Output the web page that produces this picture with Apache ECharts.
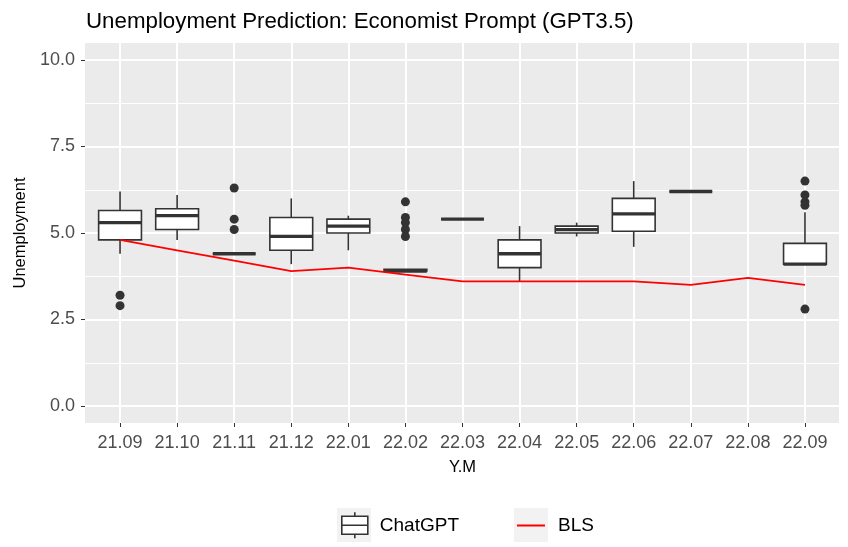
<!DOCTYPE html>
<html>
<head>
<meta charset="utf-8">
<script src="https://cdn.jsdelivr.net/npm/echarts@6/dist/echarts.min.js"></script>
<style>
html,body{margin:0;padding:0;background:#fff;}
#chart{width:848px;height:547px;}
</style>
</head>
<body>
<div id="chart"></div>
<script>
// ---- data ----
const categories = ['21.09','21.10','21.11','21.12','22.01','22.02','22.03','22.04','22.05','22.06','22.07','22.08','22.09'];
const boxMin    = [4.4, 4.8, 4.4, 4.1, 4.5, 3.9, 5.4, 3.6, 4.9, 4.6, 6.2, null, 4.1];
const boxQ1     = [4.8, 5.1, 4.4, 4.5, 5.0, 3.9, 5.4, 4.0, 5.0, 5.05, 6.2, null, 4.1];
const boxMedian = [5.3, 5.5, 4.4, 4.9, 5.2, 3.9, 5.4, 4.4, 5.1, 5.55, 6.2, null, 4.1];
const boxQ3     = [5.65, 5.7, 4.4, 5.45, 5.4, 3.95, 5.4, 4.8, 5.2, 6.0, 6.2, null, 4.7];
const boxMax    = [6.2, 6.1, 4.4, 6.0, 5.5, 3.95, 5.4, 5.2, 5.3, 6.5, 6.2, null, 5.6];
const outlierCats   = ['21.09','21.09','21.11','21.11','21.11','22.02','22.02','22.02','22.02','22.02','22.09','22.09','22.09','22.09','22.09'];
const outlierValues = [3.2, 2.9, 6.3, 5.4, 5.1, 5.9, 5.45, 5.3, 5.1, 4.9, 6.5, 6.1, 5.9, 5.8, 2.8];
const blsValues = [4.8, 4.5, 4.2, 3.9, 4.0, 3.8, 3.6, 3.6, 3.6, 3.6, 3.5, 3.7, 3.5];
const yTicks = [0, 2.5, 5, 7.5, 10];

// ---- build ----
const boxData = [];
categories.forEach((c, i) => {
  if (boxMin[i] !== null) boxData.push([c, boxMin[i], boxQ1[i], boxMedian[i], boxQ3[i], boxMax[i]]);
});
const outlierData = outlierCats.map((c, i) => [c, outlierValues[i]]);

const FONT = 'Liberation Sans, Arial, sans-serif';
const chart = echarts.init(document.getElementById('chart'), null, {renderer: 'canvas'});

function renderBox(params, api) {
  const x = api.value(0);
  const lo = api.coord([x, api.value(1)]);
  const q1 = api.coord([x, api.value(2)]);
  const md = api.coord([x, api.value(3)]);
  const q3 = api.coord([x, api.value(4)]);
  const hi = api.coord([x, api.value(5)]);
  const w = api.size([1, 0])[0] * 0.75;
  const cx = md[0];
  const stroke = {stroke: '#333333', lineWidth: 1.6, fill: null};
  return {
    type: 'group',
    children: [
      {type: 'line', shape: {x1: cx, y1: hi[1], x2: cx, y2: q3[1]}, style: stroke},
      {type: 'line', shape: {x1: cx, y1: q1[1], x2: cx, y2: lo[1]}, style: stroke},
      {type: 'rect', shape: {x: cx - w / 2, y: q3[1], width: w, height: Math.max(q1[1] - q3[1], 0)},
        style: {fill: '#ffffff', stroke: '#333333', lineWidth: 1.6}},
      {type: 'line', shape: {x1: cx - w / 2, y1: md[1], x2: cx + w / 2, y2: md[1]},
        style: {stroke: '#333333', lineWidth: 3.3}}
    ]
  };
}

// panel: x 85..839, y 43..424 ; data band: x 91.5..833.5 ; values 0..10 at y 60..406
const option = {
  animation: false,
  backgroundColor: '#ffffff',
  textStyle: {fontFamily: FONT},
  title: {
    text: 'Unemployment Prediction: Economist Prompt (GPT3.5)',
    left: 81, top: 6,
    textStyle: {fontFamily: FONT, fontSize: 22.3, fontWeight: 'normal', color: '#000000'}
  },
  graphic: [
    {type: 'rect', left: 337, top: 508, shape: {width: 34, height: 34}, style: {fill: '#F2F2F2'}, z: -1},
    {type: 'rect', left: 514, top: 508, shape: {width: 34, height: 34}, style: {fill: '#F2F2F2'}, z: -1}
  ],
  legend: [
    {
      left: 341, top: 511.5, padding: 0, itemWidth: 26, itemHeight: 26,
      data: [{name: 'ChatGPT', icon: 'path://M13,0L13,4M0,4L26,4L26,22L0,22ZM0,13L26,13M13,22L13,26',
        itemStyle: {color: '#ffffff', borderColor: '#333333', borderWidth: 1.6}}],
      textStyle: {fontFamily: FONT, fontSize: 19, color: '#000000', padding: [0, 0, 0, 7]}
    },
    {
      left: 517, top: 516, padding: 0, itemWidth: 28, itemHeight: 2,
      data: [{name: 'BLS', icon: 'rect', itemStyle: {color: '#FF0000'}}],
      textStyle: {fontFamily: FONT, fontSize: 19, color: '#000000', padding: [0, 0, 0, 8]}
    }
  ],
  grid: [
    {left: 85, right: 9, top: 43, bottom: 124, show: true, backgroundColor: '#EBEBEB', borderWidth: 0},
    {left: 85, right: 9, top: 60, bottom: 141},
    {left: 91.5, right: 14.5, top: 43, bottom: 124},
    {left: 91.5, right: 14.5, top: 60, bottom: 141}
  ],
  xAxis: [
    {type: 'category', gridIndex: 0, data: categories, show: false},
    {type: 'category', gridIndex: 1, data: categories, show: false},
    {
      type: 'category', gridIndex: 2, data: categories, boundaryGap: true,
      axisLine: {show: false},
      axisTick: {show: true, alignWithLabel: true, length: 4, lineStyle: {color: '#333333', width: 1}},
      axisLabel: {color: '#4D4D4D', fontSize: 18, fontFamily: FONT, margin: 11, interval: 0},
      splitLine: {show: true, alignWithLabel: true, interval: 0, lineStyle: {color: '#ffffff', width: 2}},
      name: 'Y.M', nameLocation: 'middle', nameGap: 36,
      nameTextStyle: {color: '#000000', fontSize: 16.5, fontFamily: FONT}
    },
    {type: 'category', gridIndex: 3, data: categories, boundaryGap: true, show: false}
  ],
  yAxis: [
    {type: 'value', gridIndex: 0, show: false, min: 0, max: 1, splitLine: {show: false}},
    {
      type: 'value', gridIndex: 1, min: 0, max: 10, interval: 2.5,
      axisLine: {show: false},
      axisTick: {show: true, length: 4, lineStyle: {color: '#333333', width: 1}},
      axisLabel: {color: '#4D4D4D', fontSize: 18, fontFamily: FONT, margin: 10,
        formatter: v => (yTicks.indexOf(v) >= 0 ? v.toFixed(1) : '')},
      splitLine: {show: true, lineStyle: {color: '#ffffff', width: 2}},
      minorTick: {show: false, splitNumber: 2},
      minorSplitLine: {show: true, lineStyle: {color: '#ffffff', width: 1}},
      name: 'Unemployment', nameLocation: 'middle', nameGap: 56, nameRotate: 90,
      nameTextStyle: {color: '#000000', fontSize: 16.5, fontFamily: FONT}
    },
    {type: 'value', gridIndex: 2, show: false, min: 0, max: 1, splitLine: {show: false}},
    {type: 'value', gridIndex: 3, show: false, min: 0, max: 10, splitLine: {show: false}}
  ],
  series: [
    {
      name: 'ChatGPT', type: 'custom', xAxisIndex: 3, yAxisIndex: 3,
      itemStyle: {color: '#ffffff', borderColor: '#333333'},
      encode: {x: 0, y: [1, 2, 3, 4, 5]},
      renderItem: renderBox, data: boxData, z: 2
    },
    {
      name: 'ChatGPT', type: 'scatter', xAxisIndex: 3, yAxisIndex: 3,
      symbol: 'circle', symbolSize: 9, itemStyle: {color: '#333333', opacity: 1},
      data: outlierData, z: 3
    },
    {
      name: 'BLS', type: 'line', xAxisIndex: 3, yAxisIndex: 3,
      data: blsValues, showSymbol: false, symbol: 'none',
      lineStyle: {color: '#FF0000', width: 1.8}, itemStyle: {color: '#FF0000'}, z: 4
    }
  ]
};
chart.setOption(option);
</script>
</body>
</html>
